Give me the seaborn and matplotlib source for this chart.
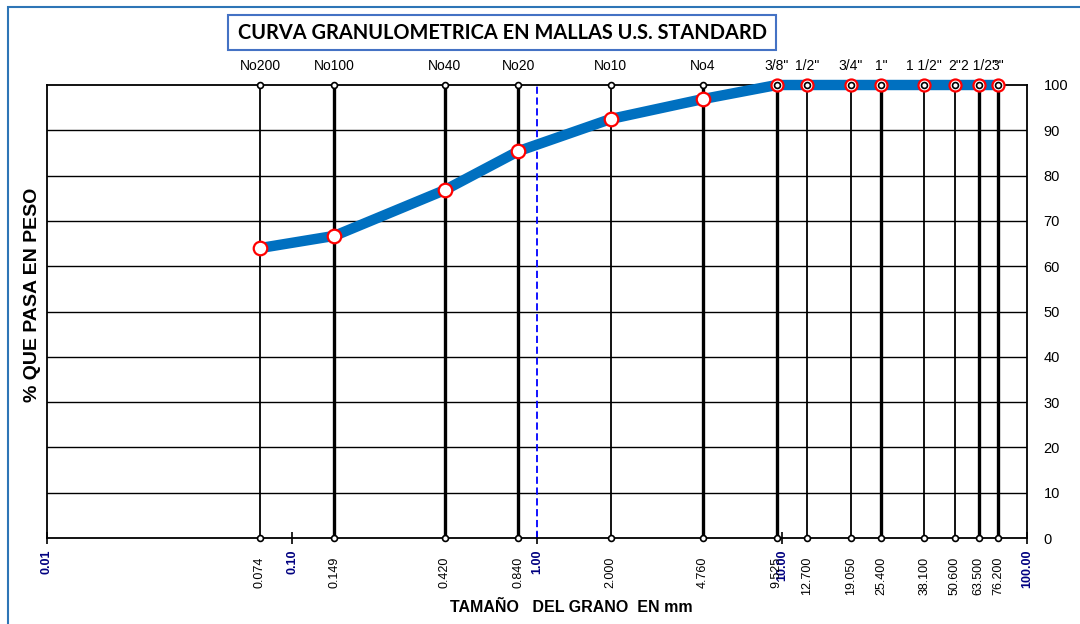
import matplotlib
matplotlib.use("Agg")
import matplotlib.pyplot as plt
import seaborn as sns
import pandas as pd
from matplotlib.patches import Rectangle

# ---- data ----
sieve_names = ['No200', 'No100', 'No40', 'No20', 'No10', 'No4', '3/8"', '1/2"',
               '3/4"', '1"', '1 1/2"', '2"', '2 1/2"', '3"']
sieve_mm = [0.074, 0.149, 0.420, 0.840, 2.000, 4.760, 9.525, 12.700,
            19.050, 25.400, 38.100, 50.600, 63.500, 76.200]
sieve_mm_labels = ['0.074', '0.149', '0.420', '0.840', '2.000', '4.760', '9.525',
                   '12.700', '19.050', '25.400', '38.100', '50.600', '63.500', '76.200']
pct_passing = [64.0, 66.7, 76.8, 85.4, 92.5, 96.9, 100, 100, 100, 100, 100, 100, 100, 100]
thick_line = [False, True, True, True, False, True, True, False, False, True,
              False, False, True, True]
decade_ticks = [0.01, 0.1, 1.0, 10.0, 100.0]
decade_labels = ['0.01', '0.10', '1.00', '10.00', '100.00']
y_ticks = [0, 10, 20, 30, 40, 50, 60, 70, 80, 90, 100]

df = pd.DataFrame({'mm': sieve_mm, 'pct': pct_passing})

sns.set_theme(style='white')
plt.rcParams['font.family'] = ['Liberation Sans', 'DejaVu Sans']
plt.rcParams['text.color'] = 'black'
plt.rcParams['axes.labelcolor'] = 'black'
plt.rcParams['xtick.color'] = 'black'
plt.rcParams['ytick.color'] = 'black'

fig = plt.figure(figsize=(10.8, 6.24), dpi=100)
ax = fig.add_axes([47/1080, 1-538/624, 980/1080, 453/624])
ax.set_xscale('log')
ax.set_xlim(0.01, 100)
ax.set_ylim(0, 100)

# horizontal grid
for yv in y_ticks[1:-1]:
    ax.axhline(yv, color='black', lw=1.0, zorder=1)

# vertical sieve lines
for x, thick in zip(sieve_mm, thick_line):
    ax.vlines(x, 0, 100, color='black', lw=2.4 if thick else 1.3, zorder=2)

# dashed blue line at 1 mm
ax.axvline(1.0, color='#0000FF', lw=1.3, ls=(0, (4, 2)), zorder=2)

# curve
sns.lineplot(data=df, x='mm', y='pct', ax=ax, color='#0070C0', lw=7.5,
             zorder=4, clip_on=False, legend=False)
# red-edged markers
big = df.iloc[:6]
small = df.iloc[6:]
ax.scatter(big['mm'], big['pct'], s=95, facecolor='white', edgecolor='#FF0000',
           linewidth=1.6, zorder=5, clip_on=False)
ax.scatter(small['mm'], small['pct'], s=75, facecolor='white', edgecolor='#FF0000',
           linewidth=1.6, zorder=5, clip_on=False)
# small black circles at top and bottom of sieve lines
ax.scatter(sieve_mm, [100]*len(sieve_mm), s=18, facecolor='white', edgecolor='black',
           linewidth=1.2, zorder=6, clip_on=False)
ax.scatter(sieve_mm, [0]*len(sieve_mm), s=18, facecolor='white', edgecolor='black',
           linewidth=1.2, zorder=6, clip_on=False)

# spines
for s in ax.spines.values():
    s.set_color('black')
    s.set_linewidth(1.3)
    s.set_visible(True)

# y ticks on right
ax.yaxis.tick_right()
ax.set_yticks(y_ticks)
ax.set_yticklabels([str(v) for v in y_ticks])
ax.tick_params(axis='y', length=0, pad=12, labelsize=10.5, labelcolor='black')

# x decade ticks
ax.set_xticks(decade_ticks)
ax.set_xticklabels(decade_labels, rotation=90, fontweight='bold', color='#000080',
                   fontsize=9)
ax.xaxis.set_minor_locator(matplotlib.ticker.NullLocator())
ax.tick_params(axis='x', which='major', direction='inout', length=8, width=1.2,
               color='black', pad=4, bottom=True)

trans = ax.get_xaxis_transform()
for x, lab in zip(sieve_mm, sieve_mm_labels):
    ax.text(x, -19/453, lab, transform=trans, rotation=90, ha='center', va='top',
            fontsize=9, color='black')
for x, lab in zip(sieve_mm, sieve_names):
    ax.text(x, 1 + 19/453, lab, transform=trans, ha='center', va='center',
            fontsize=10, color='black')

ax.set_xlabel('')
ax.set_ylabel('')

# axis titles
fig.text(571/1080, 1-608/624, 'TAMAÑO   DEL GRANO  EN mm', ha='center', va='center',
         fontsize=11.5, fontweight='bold', color='black')
fig.text(33/1080, 1-295/624, '% QUE PASA EN PESO', ha='center', va='center',
         rotation=90, fontsize=14, fontweight='bold', color='black')

# title with box
fig.text(503/1080, 1-33/624, 'CURVA GRANULOMETRICA EN MALLAS U.S. STANDARD',
         ha='center', va='center', fontsize=14.4, fontweight='bold', color='black',
         family=['Lato', 'DejaVu Sans'])
fig.patches.append(Rectangle((228/1080, 1-50/624), 548/1080, 35/624,
                             transform=fig.transFigure, fill=False,
                             edgecolor='#4472C4', lw=1.5))
# outer border
fig.patches.append(Rectangle((8/1080, -0.1), 1.2, 1-7/624+0.1,
                             transform=fig.transFigure, fill=False,
                             edgecolor='#2E75B6', lw=1.5))

fig.savefig('out.png', dpi=100)
